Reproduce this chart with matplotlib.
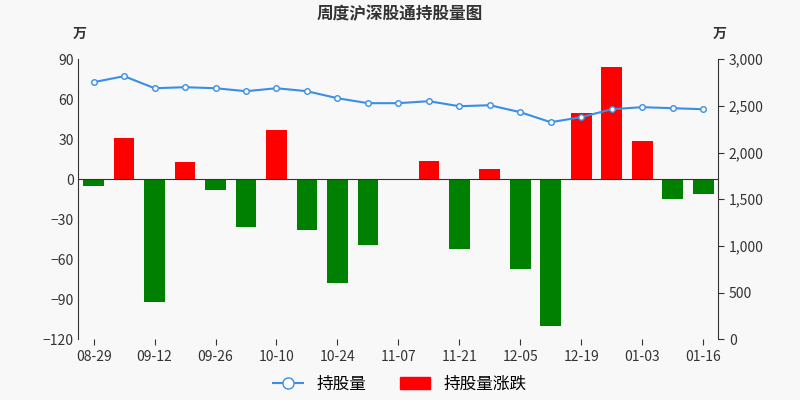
import matplotlib
matplotlib.use("Agg")
import matplotlib.pyplot as plt
import numpy as np
from matplotlib.lines import Line2D
from matplotlib.patches import Patch

plt.rcParams['font.family'] = ['Noto Sans CJK SC', 'DejaVu Sans']

dates = ["08-29","09-05","09-12","09-19","09-26","10-03","10-10","10-17","10-24","10-31",
         "11-07","11-14","11-21","11-28","12-05","12-12","12-19","12-26","01-03","01-09","01-16"]
change = [-5, 31, -92, 13, -8, -36, 37, -38, -78, -49, 0, 14, -52, 8, -67, -110, 50, 84, 29, -15, -11]
holding = [2754, 2818, 2689, 2700, 2689, 2657, 2689, 2657, 2582, 2529, 2529, 2550, 2496, 2507,
           2432, 2325, 2379, 2464, 2486, 2475, 2464]

bg = "#f8f8f8"
fig = plt.figure(figsize=(8, 4), dpi=100, facecolor=bg)
ax = fig.add_axes([0.098, 0.152, 0.8, 0.70], facecolor=bg)
x = np.arange(len(dates))
colors = ["red" if v > 0 else "green" for v in change]
ax.bar(x, change, width=0.68, color=colors, zorder=2)
ax.set_ylim(-120, 90)
ax.set_yticks(range(-120, 91, 30))
ax.set_xlim(-0.5, len(dates) - 0.5)
ax.set_xticks(x[::2])
ax.set_xticklabels(dates[::2])
ax.axhline(0, color="#333", lw=0.8, zorder=3)
for s in ["top", "right", "left"]:
    ax.spines[s].set_visible(False)
ax.spines["bottom"].set_visible(False)
ax.tick_params(axis="y", length=0, labelsize=10, colors="#333")
ax.tick_params(axis="x", length=4, labelsize=10, colors="#333")

ax2 = ax.twinx()
ax2.set_ylim(0, 3000)
ax2.set_yticks(range(0, 3001, 500))
ax2.set_yticklabels([f"{v:,}" for v in range(0, 3001, 500)])
ax2.plot(x, holding, color="#3a8ee6", lw=1.5, marker="o", markersize=4,
         markerfacecolor="white", markeredgecolor="#3a8ee6", zorder=4)
for s in ["top", "left", "bottom"]:
    ax2.spines[s].set_visible(False)
ax2.spines["right"].set_color("#333")
ax2.tick_params(axis="y", length=4, labelsize=10, colors="#333")
ax.spines["left"].set_visible(True)
ax.spines["left"].set_color("#333")

fig.text(0.5, 0.965, "周度沪深股通持股量图", ha="center", va="center", fontsize=12, fontweight="bold", color="#333")
fig.text(0.1, 0.905, "万", ha="center", fontsize=10, fontweight="bold", color="#333")
fig.text(0.9, 0.905, "万", ha="center", fontsize=10, fontweight="bold", color="#333")

handles = [Line2D([0], [0], color="#3a8ee6", marker="o", markerfacecolor="white", markersize=8),
           Patch(color="red")]
fig.legend(handles, ["持股量", "持股量涨跌"], loc="lower center", ncol=2, frameon=False,
           fontsize=12, bbox_to_anchor=(0.5, -0.02), handlelength=1.8)
fig.savefig("out.png", dpi=100, facecolor=bg)
